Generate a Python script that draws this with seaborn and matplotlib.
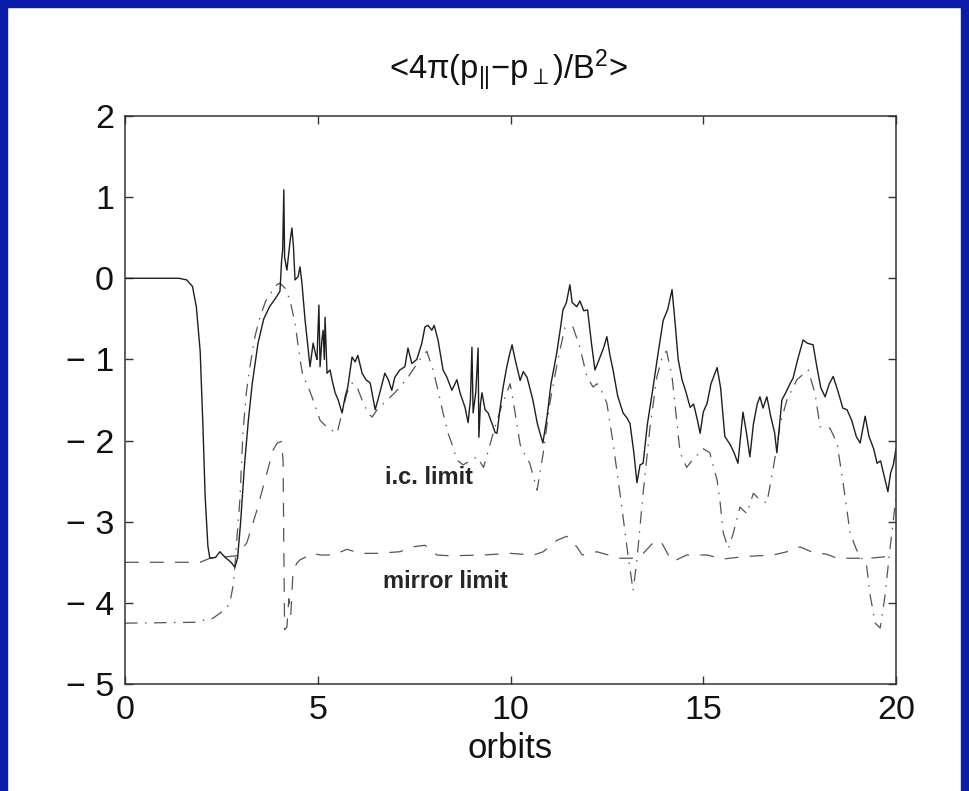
import numpy as np
import pandas as pd
import matplotlib
matplotlib.use('Agg')
import matplotlib.pyplot as plt
import seaborn as sns
from matplotlib.patches import Rectangle

# solid curve: <4pi(p_par - p_perp)/B^2>
avg_x = [0.0, 1.4, 1.6, 1.75, 1.85, 1.95, 2.02, 2.08, 2.15, 2.2, 2.35, 2.46, 2.6, 2.75, 2.85,
         2.92, 3.0, 3.1, 3.2, 3.3, 3.45, 3.6, 3.75, 3.9, 4.02, 4.06, 4.09, 4.12, 4.14, 4.2,
         4.28, 4.33, 4.37, 4.41, 4.49, 4.54, 4.59, 4.67, 4.8, 4.88, 4.95, 4.98, 5.03, 5.06,
         5.11, 5.14, 5.17, 5.19, 5.24, 5.32, 5.37, 5.45, 5.53, 5.63, 5.71, 5.78, 5.89, 5.97,
         6.04, 6.15, 6.25, 6.36, 6.49, 6.61, 6.74, 6.83, 6.92, 7.0, 7.13, 7.26, 7.34, 7.44,
         7.57, 7.7, 7.78, 7.86, 7.96, 8.02, 8.12, 8.25, 8.35, 8.48, 8.61, 8.69, 8.82, 8.9,
         8.96, 9.0, 9.03, 9.1, 9.16, 9.18, 9.22, 9.26, 9.34, 9.42, 9.55, 9.6, 9.65, 9.73,
         9.81, 9.9, 9.97, 10.04, 10.12, 10.25, 10.33, 10.43, 10.58, 10.7, 10.84, 10.95, 11.05,
         11.2, 11.3, 11.36, 11.45, 11.54, 11.6, 11.72, 11.8, 11.9, 12.0, 12.1, 12.19, 12.3,
         12.42, 12.5, 12.58, 12.66, 12.78, 12.92, 13.02, 13.1, 13.2, 13.28, 13.36, 13.44,
         13.55, 13.7, 13.82, 13.96, 14.08, 14.19, 14.27, 14.35, 14.45, 14.55, 14.66, 14.75,
         14.85, 14.92, 15.0, 15.1, 15.2, 15.36, 15.45, 15.56, 15.7, 15.8, 15.9, 16.03, 16.12,
         16.21, 16.3, 16.4, 16.47, 16.55, 16.65, 16.75, 16.85, 16.91, 17.04, 17.15, 17.25,
         17.33, 17.45, 17.59, 17.7, 17.85, 17.95, 18.05, 18.16, 18.27, 18.37, 18.5, 18.62,
         18.73, 18.85, 18.97, 19.07, 19.2, 19.3, 19.42, 19.51, 19.6, 19.7, 19.79, 19.86,
         19.93, 20.0]
avg_y = [0.0, 0.0, -0.02, -0.1, -0.35, -0.9, -1.8, -2.7, -3.3, -3.45, -3.44, -3.37, -3.44, -3.5, -3.56,
         -3.45, -3.0, -2.3, -1.75, -1.3, -0.8, -0.5, -0.35, -0.25, -0.16, 0.2, 0.35, 1.09, 0.26, 0.1,
         0.45, 0.62, 0.39, -0.02, 0.02, 0.14, -0.06, -0.51, -1.09, -0.8, -0.95, -1.0, -0.33, -1.09,
         -0.75, -0.64, -1.0, -0.48, -1.17, -1.13, -1.25, -1.41, -1.5, -1.66, -1.46, -1.34, -0.97, -1.03,
         -0.95, -1.17, -1.25, -1.29, -1.62, -1.41, -1.17, -1.25, -1.38, -1.22, -1.13, -1.09, -0.86, -1.05,
         -1.0, -0.8, -0.6, -0.58, -0.64, -0.58, -0.76, -1.13, -1.22, -1.38, -1.25, -1.41, -1.59, -1.78,
         -1.5, -0.85, -1.66, -1.4, -0.86, -1.96, -1.55, -1.41, -1.62, -1.66, -1.83, -1.9, -1.91, -1.6,
         -1.34, -1.1, -0.95, -0.82, -1.0, -1.26, -1.15, -1.22, -1.5, -1.8, -2.03, -1.7, -1.3,
         -0.92, -0.6, -0.39, -0.3, -0.08, -0.3, -0.35, -0.28, -0.4, -0.39, -0.8, -1.13, -1.0,
         -0.85, -0.72, -0.95, -1.13, -1.45, -1.66, -1.72, -1.79, -2.15, -2.52, -2.3, -2.28,
         -1.8, -1.34, -0.95, -0.52, -0.38, -0.14, -0.55, -1.0, -1.25, -1.4, -1.59, -1.55,
         -1.75, -1.91, -1.65, -1.54, -1.3, -1.1, -1.35, -1.95, -2.05, -2.15, -2.28, -1.65, -1.9,
         -2.2, -1.8, -1.55, -1.46, -1.6, -1.46, -1.7, -1.9, -2.15, -1.5, -1.4, -1.3,
         -1.23, -1.0, -0.76, -0.8, -0.82, -1.1, -1.35, -1.46, -1.3, -1.21, -1.4, -1.6,
         -1.62, -1.75, -1.95, -2.03, -1.7, -1.95, -2.1, -2.28, -2.25, -2.45, -2.63, -2.4,
         -2.3, -2.1]

# dash-dot curve: i.c. limit
ic_x = [0.0, 1.8, 2.28, 2.6, 2.72, 2.8, 2.85, 2.92, 2.98, 3.06, 3.15, 3.24, 3.37, 3.5, 3.65,
        3.84, 3.94, 4.02, 4.15, 4.28, 4.41, 4.54, 4.62, 4.72, 4.85, 5.06, 5.27, 5.5, 5.63,
        5.76, 5.89, 6.02, 6.15, 6.3, 6.41, 6.54, 6.8, 7.0, 7.13, 7.34, 7.65, 7.83, 7.99,
        8.12, 8.25, 8.38, 8.51, 8.61, 8.77, 8.95, 9.13, 9.3, 9.44, 9.55, 9.75, 9.99, 10.1,
        10.25, 10.4, 10.5, 10.69, 10.85, 11.02, 11.23, 11.41, 11.62, 11.8, 11.98, 12.14,
        12.25, 12.32, 12.5, 12.66, 12.84, 13.02, 13.18, 13.28, 13.44, 13.62, 13.8, 13.96,
        14.05, 14.19, 14.4, 14.57, 14.7, 14.8, 15.0, 15.17, 15.36, 15.43, 15.52, 15.65,
        15.78, 15.95, 16.13, 16.3, 16.47, 16.65, 16.82, 17.0, 17.17, 17.43, 17.72, 17.9,
        18.03, 18.29, 18.47, 18.63, 18.81, 18.98, 19.24, 19.32, 19.46, 19.59, 19.71, 19.84,
        19.97, 20.0]
ic_y = [-4.25, -4.24, -4.19, -4.08, -4.0, -3.8, -3.55, -3.1, -2.73, -1.9, -1.4, -1.09, -0.72, -0.48, -0.28,
        -0.14, -0.08, -0.06, -0.12, -0.27, -0.55, -1.0, -1.22, -1.3, -1.46, -1.75, -1.85, -1.91, -1.66,
        -1.41, -1.29, -1.34, -1.5, -1.66, -1.71, -1.62, -1.5, -1.41, -1.34, -1.22, -1.0, -0.9, -1.13,
        -1.38, -1.66, -1.91, -2.08, -2.24, -2.3, -2.25, -2.2, -2.33, -2.1, -1.91, -1.6, -1.3, -1.6,
        -2.05, -2.2, -2.28, -2.61, -2.15, -1.54, -1.0, -0.61, -0.6, -0.85, -1.21, -1.34,
        -1.3, -1.34, -1.54, -2.03, -2.65, -3.31, -3.85, -3.47, -2.65, -1.83, -1.21, -0.93,
        -0.9, -1.21, -2.15, -2.33, -2.25, -2.2, -2.1, -2.15, -2.49, -2.73, -3.14, -3.33,
        -3.14, -2.82, -2.9, -2.65, -2.73, -2.77, -2.33, -1.79, -1.5, -1.25, -1.13, -1.42,
        -1.83, -1.85, -2.03, -2.53, -3.14, -3.35, -3.55, -3.88, -4.25, -4.31, -3.93, -3.35,
        -2.82, -2.7]

# dashed curve: mirror limit
mirror_x = [0.0, 1.95, 2.2, 2.9, 3.16, 3.42, 3.68, 3.84, 3.95, 4.06, 4.1, 4.12, 4.14, 4.2, 4.25,
            4.3, 4.36, 4.46, 4.54, 4.88, 5.06, 5.4, 5.76, 6.1, 6.54, 7.13, 7.47, 7.78, 8.09, 8.43,
            9.3, 9.99, 10.6, 10.85, 11.2, 11.46, 11.72, 11.86, 12.24, 12.84, 13.18, 13.44, 13.7,
            13.9, 14.14, 14.22, 14.57, 15.1, 15.52, 16.04, 16.82, 17.17, 17.51, 17.85, 18.2,
            18.47, 19.32, 19.76, 20.0]
mirror_y = [-3.5, -3.5, -3.45, -3.42, -3.26, -2.86, -2.4, -2.12, -2.03, -2.01, -2.24, -3.3, -4.33, -4.3, -3.95,
            -4.15, -3.6, -3.51, -3.47, -3.39, -3.41, -3.41, -3.34, -3.39, -3.39, -3.37, -3.31, -3.29, -3.41, -3.42,
            -3.41, -3.39, -3.41, -3.37, -3.23, -3.18, -3.31, -3.41, -3.37, -3.45, -3.45, -3.39, -3.26,
            -3.24, -3.45, -3.49, -3.41, -3.41, -3.46, -3.43, -3.41, -3.37, -3.31, -3.38, -3.4,
            -3.45, -3.45, -3.43, -3.41]

x_ticks = [0, 5, 10, 15, 20]
y_ticks = [-5, -4, -3, -2, -1, 0, 1, 2]
y_labels = ['\u2212 5', '\u2212 4', '\u2212 3', '\u2212 2', '\u2212 1', '0', '1', '2']

sns.set_style('ticks')
plt.rcParams['font.family'] = ['Liberation Sans', 'DejaVu Sans']
plt.rcParams['mathtext.fontset'] = 'custom'
plt.rcParams['mathtext.rm'] = 'Liberation Sans'
plt.rcParams['mathtext.it'] = 'Liberation Sans:italic'
plt.rcParams['mathtext.bf'] = 'Liberation Sans:bold'

fig = plt.figure(figsize=(9.69, 7.91), dpi=100)
fig.patch.set_facecolor('white')

# blue slide frame
blue = '#0a1ca8'
fig.patches.append(Rectangle((0, 0), 7 / 969, 1, transform=fig.transFigure, color=blue, zorder=0))
fig.patches.append(Rectangle((0, 1 - 7 / 791), 1, 7 / 791, transform=fig.transFigure, color=blue, zorder=0))
fig.patches.append(Rectangle((961 / 969, 0), 8 / 969, 1, transform=fig.transFigure, color=blue, zorder=0))

ax = fig.add_axes([125 / 969, 1 - 684 / 791, 771 / 969, 568 / 791])

sns.lineplot(x=mirror_x, y=mirror_y, ax=ax, sort=False, estimator=None, color='#555555',
             linewidth=0.9, linestyle=(0, (11, 9)))
sns.lineplot(x=ic_x, y=ic_y, ax=ax, sort=False, estimator=None, color='#555555',
             linewidth=0.9, linestyle=(0, (10, 6, 1.2, 6)))
sns.lineplot(x=avg_x, y=avg_y, ax=ax, sort=False, estimator=None, color='#1e1e1e',
             linewidth=1.0)

ax.set_xlim(0, 20)
ax.set_ylim(-5, 2)
ax.set_xticks(x_ticks)
ax.set_yticks(y_ticks)
ax.set_yticklabels(y_labels)
ax.tick_params(direction='in', length=6, width=1, color='#333333', labelsize=24.5, pad=8,
               top=True, right=True, labelcolor='#111111')
for s in ax.spines.values():
    s.set_visible(True)
    s.set_linewidth(1.1)
    s.set_color('#333333')

ax.set_xlabel('orbits', fontsize=25, labelpad=4, color='#111111')
ax.set_ylabel('')

fig.text(0.525, 1 - 70 / 791, '<4π(p$_{||}$\u2212p$_{\\perp}$)/B$^{2}$>',
         ha='center', va='center', fontsize=23.5, color='#111111')

ax.text(7.89, -2.45, 'i.c. limit', fontsize=17, fontweight='bold', ha='center', va='center')
ax.text(8.3, -3.74, 'mirror limit', fontsize=17, fontweight='bold', ha='center', va='center')

plt.savefig('out.png', dpi=100)
plt.close()
